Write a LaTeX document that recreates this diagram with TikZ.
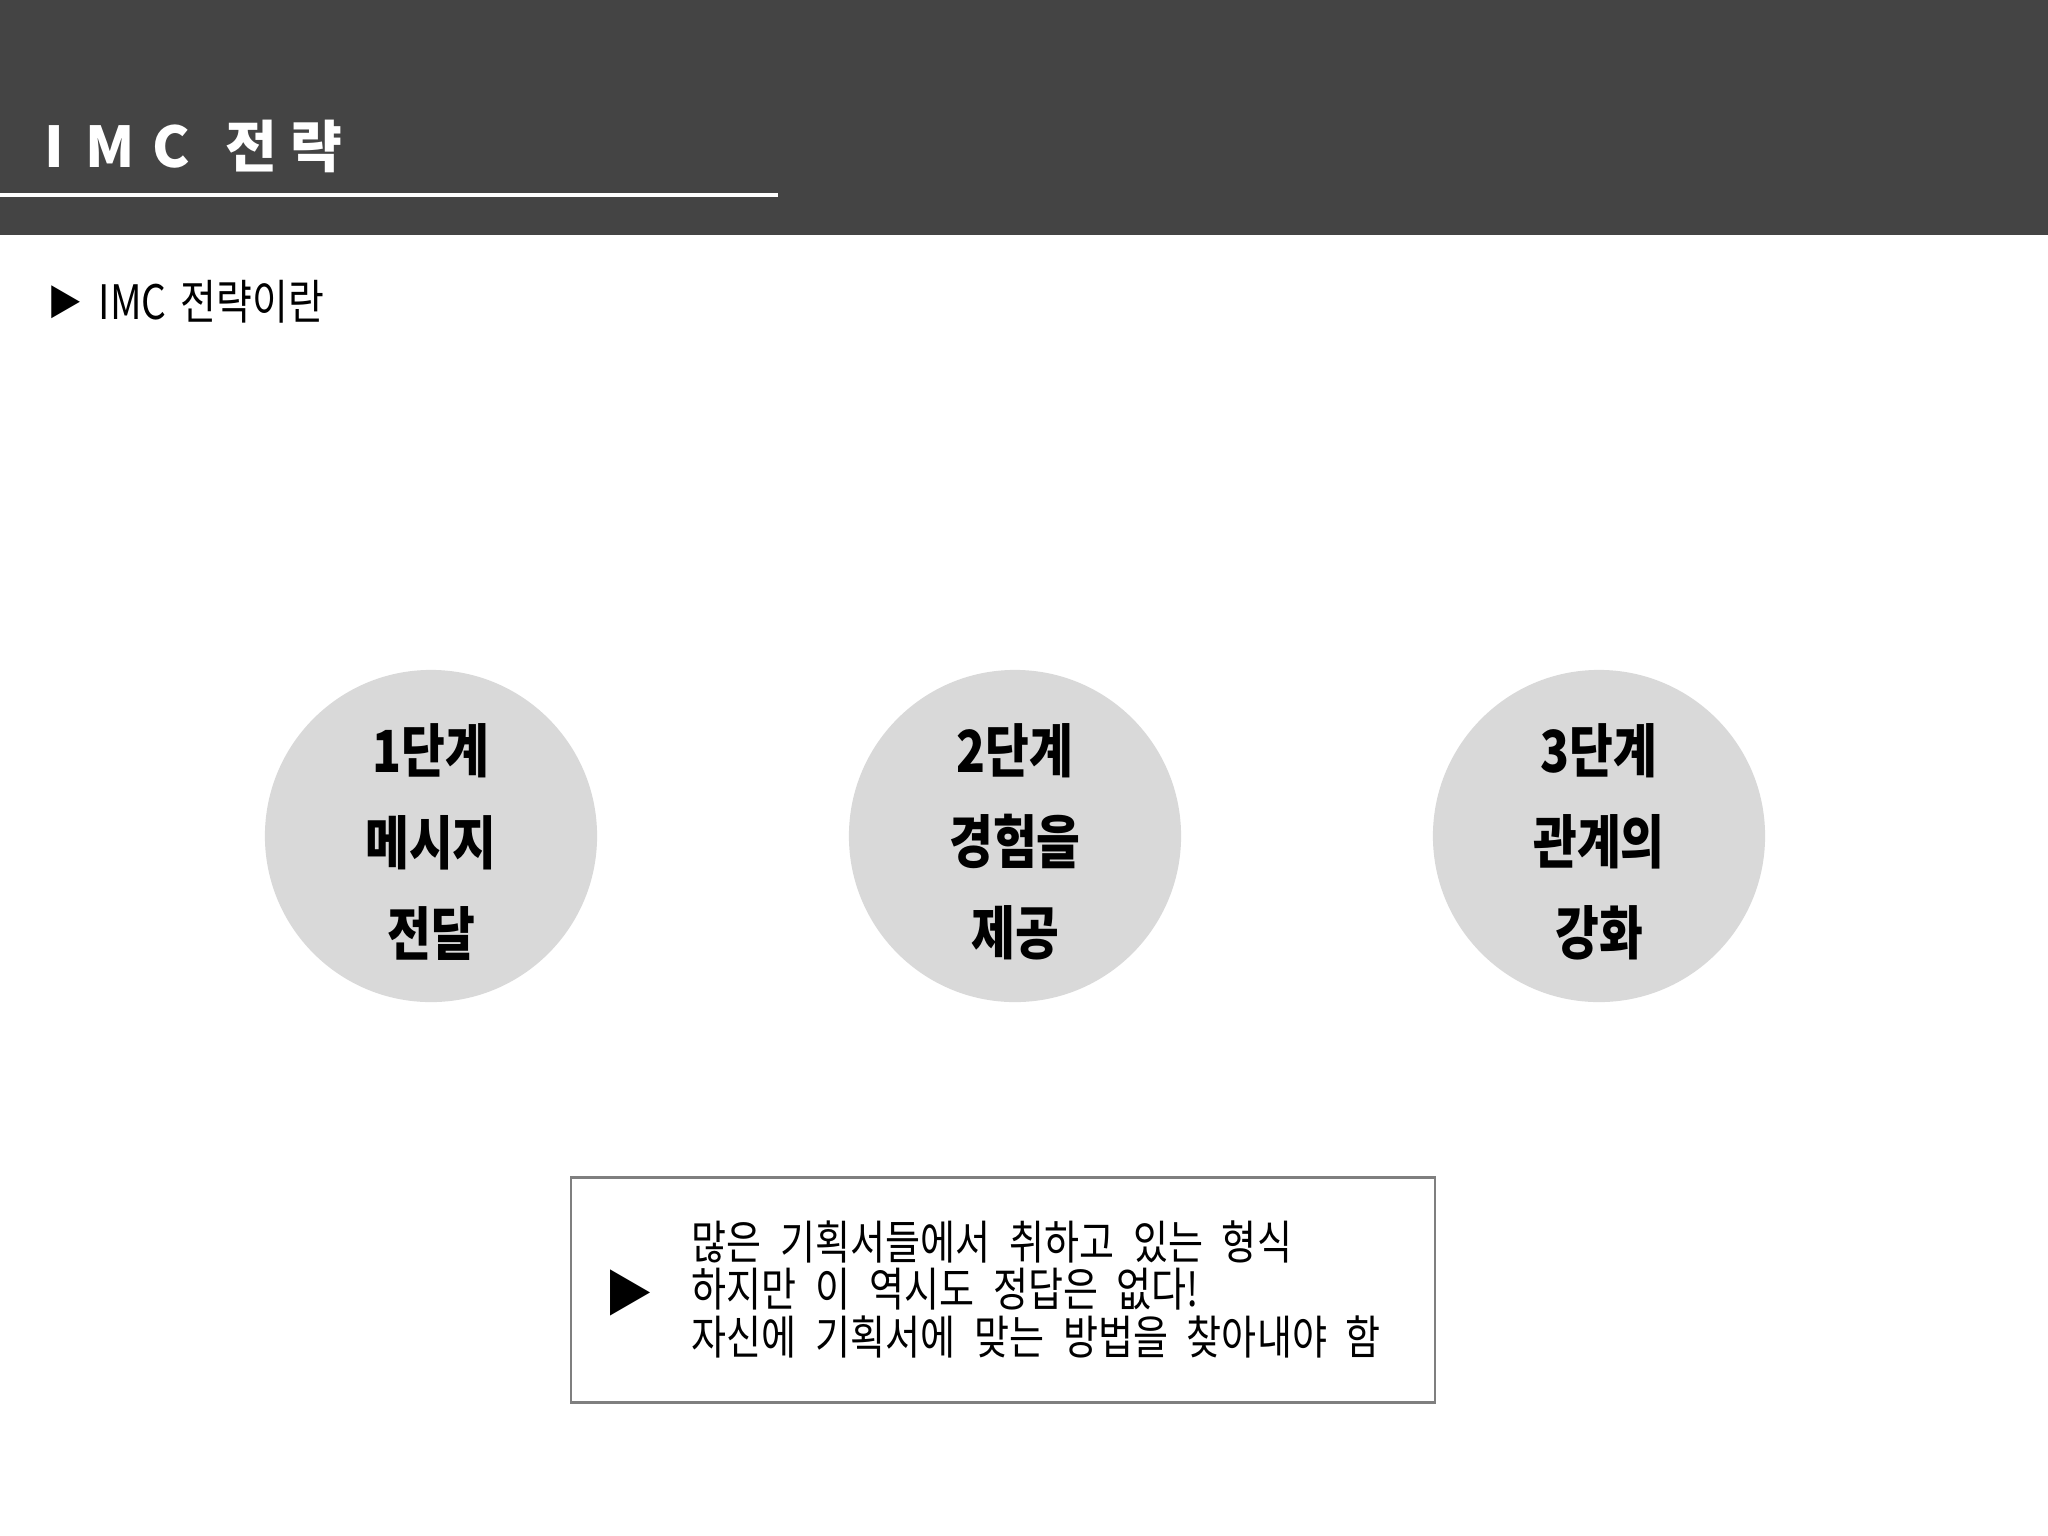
\documentclass[tikz,border=0pt]{standalone}
\usepackage{fontspec}
\setmainfont{Noto Sans CJK KR}
\newfontfamily\kofont[FakeStretch=0.82, WordSpace=2.2]{Noto Sans CJK KR}
\usetikzlibrary{positioning}
\definecolor{headercolor}{RGB}{68,68,68}
\definecolor{stagecolor}{RGB}{217,217,217}
\definecolor{framecolor}{RGB}{127,127,127}

\begin{document}
\begin{tikzpicture}[
    x=0.01cm, y=-0.01cm,
    stage/.style={circle, fill=stagecolor, minimum size=3.32cm, inner sep=0pt},
    stagetext/.style={align=center, inner sep=0pt, font=\kofont\bfseries\fontsize{16.5}{25.9}\selectfont},
    note/.style={draw=framecolor, line width=0.7pt, minimum width=8.64cm, minimum height=2.25cm, inner sep=0pt},
    marker/.style={inner sep=0pt}
]
    \useasboundingbox (0,0) rectangle (2048,1536);

    % Header
    \fill[headercolor] (0,0) rectangle (2048,235);
    \coordinate (rulestart) at (0,195);
    \coordinate (ruleend) at (778,195);
    \draw[white, line width=1.1pt] (rulestart) -- (ruleend);
    \node[anchor=west, text=white, inner sep=0pt, font=\bfseries\fontsize{16}{16}\selectfont] (title) at (44,146) {I\hspace{6pt}M\hspace{5pt}C\hspace{10pt}전\hspace{4pt}략};

    % Subtitle
    \node[marker, anchor=west, font=\fontsize{10}{10}\selectfont] (bullet) at (47,302) {▶};
    \node[anchor=west, inner sep=0pt, font=\kofont\fontsize{13.5}{13.5}\selectfont] (subtitle) at (98,302) {IMC\hspace{4pt}전략이란};

    % Stages
    \node[stage] (stage1) at (431,836) {};
    \node[stage] (stage2) at (1015,836) {};
    \node[stage] (stage3) at (1599,836) {};
    \node[stagetext] (label1) at ([yshift=-0.06cm]stage1.center) {1단계\\메시지\\전달};
    \node[stagetext] (label2) at ([yshift=-0.06cm]stage2.center) {2단계\\경험을\\제공};
    \node[stagetext] (label3) at ([yshift=-0.06cm]stage3.center) {3단계\\관계의\\강화};

    % Note box
    \node[note] (note) at (1003,1290) {};
    \node[marker, font=\fontsize{14}{14}\selectfont] (arrow) at (629,1293) {▶};
    \node[anchor=west, align=left, inner sep=0pt, font=\kofont\fontsize{13.2}{13.5}\selectfont] (remark) at (691,1289) {많은 기획서들에서 취하고 있는 형식\\하지만 이 역시도 정답은 없다!\\자신에 기획서에 맞는 방법을 찾아내야 함};
\end{tikzpicture}
\end{document}
